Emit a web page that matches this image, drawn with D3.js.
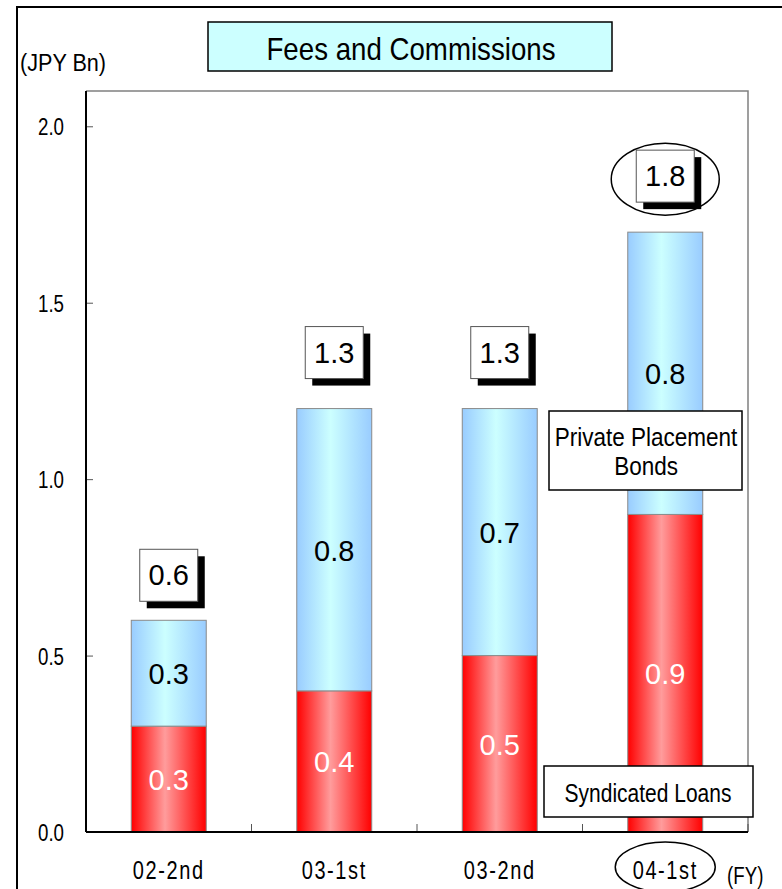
<!DOCTYPE html>
<html>
<head>
<meta charset="utf-8">
<script src="https://cdn.jsdelivr.net/npm/d3@7"></script>
<style>
  html, body { margin: 0; padding: 0; background: #ffffff; }
  svg text { font-family: "Liberation Sans", Arial, sans-serif; }
</style>
</head>
<body>
<div id="fees-chart"></div>
<script>
const wFees = 782
const hFees = 889

// Plot area edges
const plotLeft = 86
const plotRight = 748
const plotTop = 91
const plotBottom = 832

// --- Data ---
const periods = [ "02-2nd", "03-1st", "03-2nd", "04-1st" ]
const syndicatedLoans = [ 0.3, 0.4, 0.5, 0.9 ]
const privatePlacementBonds = [ 0.3, 0.8, 0.7, 0.8 ]
// Totals as printed in the boxes (rounded in the source)
const totalLabels = [ "0.6", "1.3", "1.3", "1.8" ]
const yTickValues = [ 0, 0.5, 1.0, 1.5, 2.0 ]
const seriesNames = [ "Syndicated Loans", "Private Placement Bonds" ]
const highlighted = "04-1st"

const fmt = d3.format(".1f")

const svgFees = d3.select("#fees-chart")
                  .append("svg")
                    .attr("width", wFees)
                    .attr("height", hFees)

// Source font is a condensed sans, so squeeze Liberation Sans horizontally
const narrowText = (sel, x, y, size, sx, anchor, txt) =>
  sel.append("text")
      .attr("transform", `translate(${x},${y}) scale(${sx},1)`)
      .attr("text-anchor", anchor)
      .attr("font-size", size)
      .text(txt)

// Gradients for the bars
const defs = svgFees.append("defs")
const addGradient = (id, edge, centre) => {
  const g = defs.append("linearGradient")
                  .attr("id", id)
                  .attr("x1", "0%").attr("x2", "100%")
                  .attr("y1", "0%").attr("y2", "0%")
  g.append("stop").attr("offset", "0%").attr("stop-color", edge)
  g.append("stop").attr("offset", "45%").attr("stop-color", centre)
  g.append("stop").attr("offset", "100%").attr("stop-color", edge)
}
addGradient("grad-red", "#ff0000", "#ff9c9c")
addGradient("grad-blue", "#99ccff", "#ccffff")

// Outer frame
svgFees.append("rect")
        .attr("x", 17)
        .attr("y", 7)
        .attr("width", 800)
        .attr("height", 900)
        .attr("fill", "none")
        .attr("stroke", "#000")
        .attr("stroke-width", 2)

// --- Scales ---
const xScale = d3.scaleBand()
                  .domain(periods)
                  .range([plotLeft, plotRight])
                  .paddingInner(0.547)
                  .paddingOuter(0.2735)

const xBand = d3.scaleBand()
                 .domain(periods)
                 .range([plotLeft, plotRight])

const yScale = d3.scaleLinear()
                  .domain([0, 2.1])
                  .range([plotBottom, plotTop])

// Plot area border (top & right grey)
svgFees.append("path")
        .attr("d", `M${plotLeft},${plotTop}H${plotRight}V${plotBottom}`)
        .attr("fill", "none")
        .attr("stroke", "#808080")
        .attr("stroke-width", 1.5)

// --- Bars ---
const stacked = periods.map((p, i) => ({
  period: p,
  segments: [
    { name: seriesNames[0], y0: 0, y1: syndicatedLoans[i], value: syndicatedLoans[i], fill: "url(#grad-red)", text: "#ffffff" },
    { name: seriesNames[1], y0: syndicatedLoans[i], y1: syndicatedLoans[i] + privatePlacementBonds[i], value: privatePlacementBonds[i], fill: "url(#grad-blue)", text: "#000000" }
  ]
}))

const barGroups = svgFees.selectAll(".bar-group")
                          .data(stacked)
                          .join("g")
                            .attr("class", "bar-group")

barGroups.selectAll("rect")
          .data(d => d.segments.map(s => ({ ...s, period: d.period })))
          .join("rect")
            .attr("x", d => xScale(d.period))
            .attr("y", d => yScale(d.y1))
            .attr("width", xScale.bandwidth())
            .attr("height", d => yScale(d.y0) - yScale(d.y1))
            .attr("fill", d => d.fill)
            .attr("stroke", "#8a8a8a")
            .attr("stroke-width", 1)

barGroups.selectAll("text")
          .data(d => d.segments.map(s => ({ ...s, period: d.period })))
          .join("text")
            .attr("x", d => xScale(d.period) + xScale.bandwidth() / 2)
            .attr("y", d => (yScale(d.y0) + yScale(d.y1)) / 2 + 11)
            .attr("text-anchor", "middle")
            .attr("font-size", 29)
            .attr("fill", d => d.text)
            .text(d => fmt(d.value))

// --- Axes ---
const yAxis = svgFees.append("g")
                      .attr("transform", `translate(${plotLeft},0)`)
                      .call(d3.axisRight(yScale).tickValues(yTickValues).tickSize(7).tickFormat(""))
yAxis.select(".domain").remove()
yAxis.selectAll("line").attr("stroke", "#555")

yTickValues.forEach(v => narrowText(svgFees, 64, yScale(v) + 9, 24, 0.78, "end", fmt(v)))

svgFees.append("line")
        .attr("x1", plotLeft).attr("x2", plotLeft)
        .attr("y1", plotTop).attr("y2", plotBottom)
        .attr("stroke", "#000").attr("stroke-width", 2)

// x ticks between categories
const xTicks = periods.slice(1).map(p => xBand(p)).concat([plotRight])
svgFees.selectAll(".x-tick")
        .data(xTicks)
        .join("line")
          .attr("class", "x-tick")
          .attr("x1", d => d).attr("x2", d => d)
          .attr("y1", plotBottom).attr("y2", plotBottom - 8)
          .attr("stroke", "#555")

svgFees.append("line")
        .attr("x1", plotLeft).attr("x2", plotRight)
        .attr("y1", plotBottom).attr("y2", plotBottom)
        .attr("stroke", "#000").attr("stroke-width", 2)

periods.forEach(p => {
  narrowText(svgFees, xBand(p) + xBand.bandwidth() / 2, 879, 25, 0.8, "middle", p)
    .attr("letter-spacing", 2)
})

// highlight ellipse on the last period
svgFees.append("ellipse")
        .attr("cx", xBand(highlighted) + xBand.bandwidth() / 2)
        .attr("cy", 867)
        .attr("rx", 50)
        .attr("ry", 25)
        .attr("fill", "none")
        .attr("stroke", "#000")
        .attr("stroke-width", 1.5)

narrowText(svgFees, 727, 884, 24, 0.78, "start", "(FY)")
narrowText(svgFees, 20, 71, 24, 0.9, "start", "(JPY Bn)")

// --- Title ---
svgFees.append("rect")
        .attr("x", 208)
        .attr("y", 22)
        .attr("width", 404)
        .attr("height", 49)
        .attr("fill", "#ccffff")
        .attr("stroke", "#000")
        .attr("stroke-width", 1.5)

narrowText(svgFees, 411, 60, 32, 0.865, "middle", "Fees and Commissions")

// --- Total boxes with shadow ---
const boxW = 58
const boxH = 52
const totals = periods.map((p, i) => ({ period: p, total: syndicatedLoans[i] + privatePlacementBonds[i], label: totalLabels[i] }))
const boxCentreY = (d, i) => yScale(d.total) - (i === 0 ? 45 : 56)

const totalGroups = svgFees.selectAll(".total-box")
                            .data(totals)
                            .join("g")
                              .attr("class", "total-box")
                              .attr("transform", (d, i) => `translate(${xScale(d.period) + xScale.bandwidth() / 2},${boxCentreY(d, i)})`)

totalGroups.append("rect")
            .attr("x", -boxW / 2 + 7)
            .attr("y", -boxH / 2 + 7)
            .attr("width", boxW)
            .attr("height", boxH)
            .attr("fill", "#000")

totalGroups.append("rect")
            .attr("x", -boxW / 2)
            .attr("y", -boxH / 2)
            .attr("width", boxW)
            .attr("height", boxH)
            .attr("fill", "#fff")
            .attr("stroke", "#555")
            .attr("stroke-width", 1)

totalGroups.append("text")
            .attr("y", 10)
            .attr("text-anchor", "middle")
            .attr("font-size", 29)
            .text(d => d.label)

// ellipse around the latest total
const last = totals[totals.length - 1]
svgFees.append("ellipse")
        .attr("cx", xScale(last.period) + xScale.bandwidth() / 2)
        .attr("cy", boxCentreY(last, totals.length - 1) + 3)
        .attr("rx", 54)
        .attr("ry", 36)
        .attr("fill", "none")
        .attr("stroke", "#000")
        .attr("stroke-width", 1.5)

// --- Series labels ---
const ppBox = svgFees.append("g")
ppBox.append("rect")
      .attr("x", 549).attr("y", 411)
      .attr("width", 193).attr("height", 79)
      .attr("fill", "#fff").attr("stroke", "#000").attr("stroke-width", 1.5)
narrowText(ppBox, 646, 446, 25, 0.9, "middle", "Private Placement")
narrowText(ppBox, 646, 475, 25, 0.9, "middle", "Bonds")

const slBox = svgFees.append("g")
slBox.append("rect")
      .attr("x", 544).attr("y", 766)
      .attr("width", 209).attr("height", 51)
      .attr("fill", "#fff").attr("stroke", "#000").attr("stroke-width", 1.5)
narrowText(slBox, 648, 802, 25, 0.84, "middle", seriesNames[0])
</script>
</body>
</html>
